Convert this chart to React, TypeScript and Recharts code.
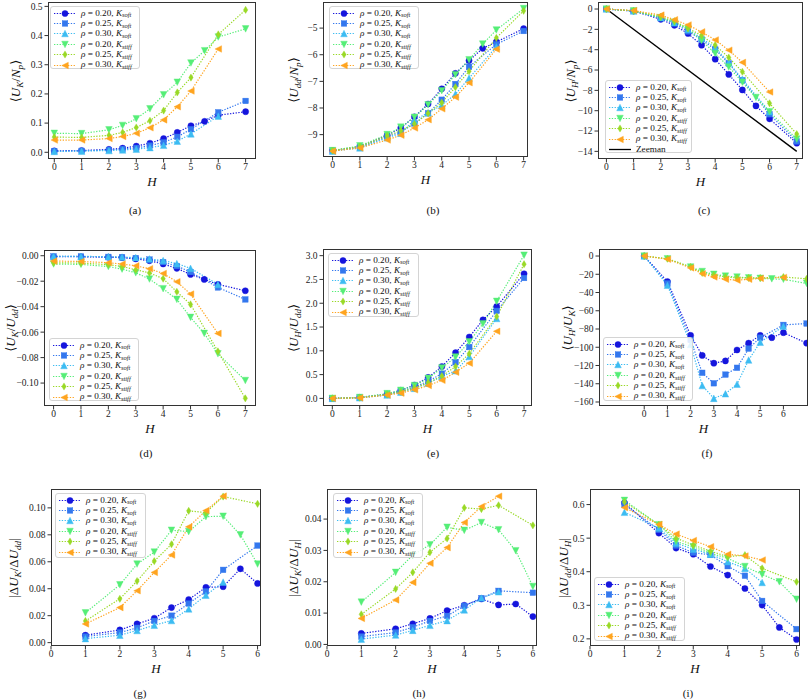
import React from 'react';
import { LineChart, Line, XAxis, YAxis } from 'recharts';

// H grids (rho = 0.20 has the extra 5.5 point, rho = 0.30 stops at 6)
const H_R20 = [0, 1, 2, 2.5, 3, 3.5, 4, 4.5, 5, 5.5, 6, 7];
const H_R25 = [0, 1, 2, 2.5, 3, 3.5, 4, 4.5, 5, 6, 7];
const H_R30 = [0, 1, 2, 2.5, 3, 3.5, 4, 4.5, 5, 6];
const DH_R20 = [1, 2, 2.5, 3, 3.5, 4, 4.5, 5, 5.5, 6];
const DH_R25 = [1, 2, 2.5, 3, 3.5, 4, 4.5, 5, 6];
const DH_R30 = [1, 2, 2.5, 3, 3.5, 4, 4.5, 5];

const TOP_H = [H_R20, H_R25, H_R30, H_R20, H_R25, H_R30];
const BOTTOM_H = [DH_R20, DH_R25, DH_R30, DH_R20, DH_R25, DH_R30];

// series order: soft 0.20, soft 0.25, soft 0.30, stiff 0.20, stiff 0.25, stiff 0.30
const UK_NP = [
  [0.005, 0.006, 0.010, 0.014, 0.021, 0.031, 0.047, 0.068, 0.091, 0.106, 0.127, 0.139],
  [0.004, 0.005, 0.008, 0.011, 0.015, 0.023, 0.034, 0.053, 0.079, 0.137, 0.176],
  [0.003, 0.004, 0.006, 0.008, 0.011, 0.016, 0.024, 0.038, 0.063, 0.124],
  [0.065, 0.064, 0.077, 0.092, 0.115, 0.149, 0.197, 0.240, 0.306, 0.348, 0.395, 0.423],
  [0.052, 0.051, 0.058, 0.068, 0.085, 0.108, 0.143, 0.205, 0.256, 0.404, 0.488],
  [0.042, 0.042, 0.047, 0.054, 0.065, 0.084, 0.111, 0.156, 0.210, 0.354],
];
const UDD_NP = [
  [-9.6, -9.45, -9.02, -8.75, -8.33, -7.85, -7.28, -6.7, -6.22, -5.76, -5.52, -5.02],
  [-9.6, -9.48, -9.08, -8.9, -8.58, -8.2, -7.69, -7.1, -6.45, -5.61, -5.11],
  [-9.62, -9.5, -9.12, -8.95, -8.45, -8.18, -7.9, -7.48, -6.88, -5.7],
  [-9.6, -9.42, -9.0, -8.72, -8.35, -7.88, -7.35, -6.75, -6.19, -5.6, -5.07, -4.27],
  [-9.6, -9.45, -9.05, -8.85, -8.6, -8.2, -7.8, -7.22, -6.62, -5.37, -4.35],
  [-9.62, -9.5, -9.2, -9.02, -8.75, -8.44, -8.03, -7.59, -7.05, -5.79],
];
const UH_NP = [
  [0, -0.2, -1.01, -1.6, -2.41, -3.56, -4.93, -6.43, -7.96, -9.53, -10.8, -13.19],
  [0, -0.2, -0.9, -1.4, -2.2, -3.0, -3.98, -5.35, -7.0, -10.35, -13.02],
  [0, -0.2, -0.85, -1.35, -2.0, -2.85, -3.8, -5.25, -6.9, -10.1],
  [0, -0.18, -0.85, -1.3, -1.95, -3.1, -4.37, -5.7, -7.2, -8.7, -10.1, -12.8],
  [0, -0.18, -0.75, -1.2, -1.9, -2.6, -3.56, -4.77, -6.17, -9.27, -12.3],
  [0, -0.15, -0.6, -1.05, -1.57, -2.25, -3.04, -4.05, -5.25, -8.16],
];
const ZEEMAN_H = [0, 7];
const ZEEMAN_U = [0, -14];
const UK_UDD = [
  [-0.0008, -0.0008, -0.0012, -0.0015, -0.0025, -0.0039, -0.0065, -0.0099, -0.0147, -0.0186, -0.0225, -0.0275],
  [-0.0005, -0.0006, -0.0009, -0.0012, -0.0018, -0.003, -0.005, -0.0081, -0.0128, -0.0249, -0.0343],
  [-0.0004, -0.0005, -0.0007, -0.001, -0.0015, -0.0025, -0.0038, -0.0062, -0.0099, -0.0225],
  [-0.0065, -0.0068, -0.0085, -0.0105, -0.0134, -0.0183, -0.0259, -0.0343, -0.0484, -0.061, -0.077, -0.098],
  [-0.0055, -0.0058, -0.007, -0.0085, -0.011, -0.0135, -0.018, -0.0283, -0.0382, -0.0751, -0.112],
  [-0.0042, -0.0045, -0.0055, -0.0065, -0.0079, -0.0102, -0.0139, -0.0204, -0.0301, -0.061],
];
const UH_UDD = [
  [0, 0.02, 0.09, 0.17, 0.28, 0.44, 0.67, 0.96, 1.29, 1.65, 1.93, 2.62],
  [0, 0.015, 0.08, 0.15, 0.24, 0.36, 0.52, 0.76, 1.08, 1.84, 2.53],
  [0, 0.012, 0.07, 0.13, 0.21, 0.32, 0.46, 0.58, 0.88, 1.68],
  [0, 0.02, 0.1, 0.17, 0.27, 0.42, 0.64, 0.87, 1.19, 1.57, 2.04, 3.01],
  [0, 0.015, 0.08, 0.14, 0.22, 0.33, 0.47, 0.67, 0.94, 1.72, 2.82],
  [0, 0.01, 0.07, 0.11, 0.18, 0.27, 0.38, 0.55, 0.74, 1.41],
];
const UH_UK = [
  [0, -28, -87, -109, -117.5, -115, -103, -95.5, -87, -89.5, -84, -95.5],
  [0, -30, -92, -128, -139.5, -130, -122.5, -101.5, -89.5, -75.5, -74],
  [0, -32, -97, -142, -156, -151, -140.5, -114, -94.5, -77],
  [0, -3, -12, -17, -20, -22, -23, -24, -24.5, -25, -25.5, -30],
  [0, -3, -12, -18.5, -21, -23, -24, -24, -24, -23, -25],
  [0, -3.5, -13, -19.5, -23, -25.5, -26.5, -25.5, -24.5, -23.5],
];
const DUK_DUDD = [
  [0.0055, 0.0094, 0.0139, 0.0181, 0.026, 0.032, 0.041, 0.0415, 0.0548, 0.0439],
  [0.0045, 0.0075, 0.011, 0.0161, 0.020, 0.029, 0.038, 0.054, 0.072],
  [0.003, 0.0055, 0.009, 0.0129, 0.0164, 0.025, 0.0352, 0.0449],
  [0.0221, 0.0429, 0.0583, 0.0672, 0.0834, 0.0824, 0.0935, 0.0938, 0.080, 0.0583],
  [0.0161, 0.0325, 0.0457, 0.0605, 0.073, 0.0978, 0.0965, 0.1084, 0.103],
  [0.0139, 0.026, 0.0385, 0.0521, 0.065, 0.0859, 0.098, 0.1087],
];
const DUK_DUH = [
  [0.0035, 0.005, 0.0066, 0.0083, 0.0108, 0.0125, 0.0145, 0.0126, 0.0129, 0.0089],
  [0.0025, 0.0038, 0.0055, 0.0075, 0.0091, 0.0123, 0.0148, 0.0171, 0.0165],
  [0.0017, 0.003, 0.0045, 0.0061, 0.0076, 0.011, 0.0148, 0.0168],
  [0.0135, 0.023, 0.0285, 0.0318, 0.0374, 0.0364, 0.0389, 0.0366, 0.0299, 0.0185],
  [0.0096, 0.0177, 0.023, 0.0294, 0.0338, 0.0436, 0.0432, 0.0444, 0.038],
  [0.0083, 0.0142, 0.0198, 0.0259, 0.0309, 0.0389, 0.044, 0.0473],
];
const DUDD_DUH = [
  [0.605, 0.515, 0.4705, 0.452, 0.4155, 0.39, 0.35, 0.3005, 0.234, 0.198],
  [0.6, 0.525, 0.478, 0.457, 0.45, 0.4165, 0.388, 0.313, 0.229],
  [0.577, 0.53, 0.485, 0.467, 0.452, 0.43, 0.41, 0.368],
  [0.6125, 0.54, 0.49, 0.474, 0.455, 0.44, 0.4155, 0.392, 0.37, 0.318],
  [0.608, 0.54, 0.5, 0.4795, 0.461, 0.445, 0.4495, 0.41, 0.37],
  [0.591, 0.541, 0.512, 0.493, 0.4745, 0.452, 0.447, 0.4348],
];

const SERIES = [
  { rho: '0.20', k: 'soft', color: '#1515dd', marker: 'o' },
  { rho: '0.25', k: 'soft', color: '#3377ee', marker: 's' },
  { rho: '0.30', k: 'soft', color: '#3cbcf2', marker: '^' },
  { rho: '0.20', k: 'stiff', color: '#55ee77', marker: 'v' },
  { rho: '0.25', k: 'stiff', color: '#99d926', marker: 'd' },
  { rho: '0.30', k: 'stiff', color: '#ffa41f', marker: '<' },
];

const X_TICKS_TOP = [0, 1, 2, 3, 4, 5, 6, 7];
const X_TICKS_F = [0, 1, 2, 3, 4, 5, 6];
const X_TICKS_BOTTOM = [0, 1, 2, 3, 4, 5, 6];

const SERIF = '"Liberation Serif", "DejaVu Serif", serif';
const YW = 40;
const XH = 18;

const Marker = ({ kind, cx, cy, color }: any) => {
  if (cx == null || cy == null) return null;
  const h = 3.3;
  const common = { fill: color, stroke: color, strokeWidth: 0.4 };
  switch (kind) {
    case 'o':
      return <circle cx={cx} cy={cy} r={3.1} {...common} />;
    case 's':
      return <rect x={cx - 2.8} y={cy - 2.8} width={5.6} height={5.6} {...common} />;
    case '^':
      return <polygon points={`${cx},${cy - h} ${cx - h},${cy + h} ${cx + h},${cy + h}`} {...common} />;
    case 'v':
      return <polygon points={`${cx},${cy + h} ${cx - h},${cy - h} ${cx + h},${cy - h}`} {...common} />;
    case 'd':
      return <polygon points={`${cx},${cy - 3.6} ${cx + 2.2},${cy} ${cx},${cy + 3.6} ${cx - 2.2},${cy}`} {...common} />;
    case '<':
      return <polygon points={`${cx - h},${cy} ${cx + h},${cy - h} ${cx + h},${cy + h}`} {...common} />;
    default:
      return null;
  }
};

const Sub = ({ children }: any) => (
  <span style={{ fontSize: '0.7em', position: 'relative', top: '0.3em' }}>{children}</span>
);

const Quotient = ({ num, den, delta, abs }: any) => (
  <span style={{ fontFamily: SERIF, fontSize: 13, whiteSpace: 'nowrap' }}>
    {abs ? '|' : '⟨'}
    {delta ? 'Δ' : ''}
    <i>{num[0]}</i>
    <Sub><i>{num[1]}</i></Sub>/{delta ? 'Δ' : ''}
    <i>{den[0]}</i>
    <Sub><i>{den[1]}</i></Sub>
    {abs ? '|' : '⟩'}
  </span>
);

const fmt = (dec: number) => (v: number) => {
  const s = v.toFixed(dec);
  return (Math.abs(v) < 1e-12 ? (0).toFixed(dec) : s).replace('-', '−');
};

const LegendBox = ({ pos, zeeman }: any) => {
  const rows = SERIES.map((s) => (
    <div key={s.rho + s.k} style={{ display: 'flex', alignItems: 'center', height: 10.4 }}>
      <svg width={22} height={9} style={{ flex: 'none' }}>
        <line x1={0} y1={4.5} x2={22} y2={4.5} stroke={s.color} strokeWidth={1.2} strokeDasharray="1.3 1.5" />
        <Marker kind={s.marker} cx={11} cy={4.5} color={s.color} />
      </svg>
      <span style={{ marginLeft: 5, whiteSpace: 'nowrap' }}>
        <i>ρ</i> = {s.rho}, <i>K</i>
        <Sub><i>{s.k}</i></Sub>
      </span>
    </div>
  ));
  return (
    <div
      style={{
        position: 'absolute',
        left: pos[0],
        top: pos[1],
        width: pos[2],
        height: pos[3],
        boxSizing: 'border-box',
        border: '1px solid #d4d4d4',
        borderRadius: 3,
        background: 'rgba(255,255,255,0.85)',
        padding: '1px 3px',
        fontFamily: SERIF,
        fontSize: 9.2,
        lineHeight: '10.4px',
        color: '#111',
        zIndex: 2,
      }}
    >
      {rows}
      {zeeman && (
        <div style={{ display: 'flex', alignItems: 'center', height: 10.4 }}>
          <svg width={22} height={9} style={{ flex: 'none' }}>
            <line x1={0} y1={4.5} x2={22} y2={4.5} stroke="#000" strokeWidth={1.3} />
          </svg>
          <span style={{ marginLeft: 5 }}>Zeeman</span>
        </div>
      )}
    </div>
  );
};

const Panel = ({ cfg }: any) => {
  const [l, t, r, b] = cfg.frame;
  const w = r - l;
  const h = b - t;
  const tickStyle = { fontFamily: SERIF, fontSize: 9.5, fill: '#222' };
  return (
    <>
      <div style={{ position: 'absolute', left: l - YW, top: t }}>
        <LineChart width={w + YW} height={h + XH} margin={{ top: 0, right: 0, bottom: 0, left: 0 }}>
          <XAxis
            type="number"
            dataKey="x"
            domain={cfg.xDomain}
            ticks={cfg.xTicks}
            interval={0}
            allowDataOverflow
            axisLine={false}
            tickLine={{ stroke: '#333' }}
            tickSize={3.5}
            tickMargin={1}
            height={XH}
            tick={tickStyle}
          />
          <YAxis
            type="number"
            domain={cfg.yDomain}
            ticks={cfg.yTicks}
            interval={0}
            allowDataOverflow
            axisLine={false}
            tickLine={{ stroke: '#333' }}
            tickSize={3.5}
            tickMargin={2}
            width={YW}
            tick={tickStyle}
            tickFormatter={fmt(cfg.yDec)}
          />
          {cfg.zeeman && (
            <Line
              data={ZEEMAN_H.map((x, i) => ({ x, y: ZEEMAN_U[i] }))}
              dataKey="y"
              stroke="#000"
              strokeWidth={1.4}
              dot={false}
              activeDot={false}
              isAnimationActive={false}
            />
          )}
          {cfg.values.map((ys: number[], si: number) => {
            const s = SERIES[si];
            const xs = cfg.hs[si];
            return (
              <Line
                key={si}
                data={xs.map((x: number, i: number) => ({ x, y: ys[i] }))}
                dataKey="y"
                stroke={s.color}
                strokeWidth={1.2}
                strokeDasharray="1.3 1.5"
                activeDot={false}
                isAnimationActive={false}
                dot={(p: any) => <Marker key={`${si}-${p.index}`} kind={s.marker} cx={p.cx} cy={p.cy} color={s.color} />}
              />
            );
          })}
        </LineChart>
      </div>
      <div
        style={{
          position: 'absolute',
          left: l,
          top: t,
          width: w,
          height: h,
          boxSizing: 'border-box',
          border: '1px solid #333',
          pointerEvents: 'none',
          zIndex: 1,
        }}
      />
      <LegendBox pos={cfg.legend} zeeman={cfg.zeeman} />
      <div
        style={{
          position: 'absolute',
          left: l - cfg.yLabelGap,
          top: t + h / 2,
          transform: 'translate(-50%, -50%) rotate(-90deg)',
          color: '#111',
        }}
      >
        {cfg.yLabel}
      </div>
      <div
        style={{
          position: 'absolute',
          left: l + w / 2,
          top: b + 22,
          transform: 'translate(-50%, -50%)',
          fontFamily: SERIF,
          fontStyle: 'italic',
          fontSize: 13,
          lineHeight: '13px',
          color: '#111',
        }}
      >
        H
      </div>
      <div
        style={{
          position: 'absolute',
          left: cfg.caption[0],
          top: cfg.caption[1],
          transform: 'translate(-50%, -50%)',
          fontFamily: SERIF,
          fontSize: 11,
          lineHeight: '12px',
          color: '#111',
        }}
      >
        {cfg.name}
      </div>
    </>
  );
};

const PANELS = [
  {
    name: '(a)', frame: [48, 2, 256, 159], xDomain: [-0.23, 7.38], yDomain: [-0.023, 0.515],
    xTicks: X_TICKS_TOP, yTicks: [0, 0.1, 0.2, 0.3, 0.4, 0.5], yDec: 1, hs: TOP_H, values: UK_NP,
    legend: [50, 6, 90, 63], yLabelGap: 33, caption: [135, 210],
    yLabel: <Quotient num={['U', 'K']} den={['N', 'p']} />,
  },
  {
    name: '(b)', frame: [323, 2, 528, 157], xDomain: [-0.35, 7.16], yDomain: [-9.84, -4.02],
    xTicks: X_TICKS_TOP, yTicks: [-9, -8, -7, -6, -5], yDec: 0, hs: TOP_H, values: UDD_NP,
    legend: [329, 6, 90, 63], yLabelGap: 30, caption: [433, 210],
    yLabel: <Quotient num={['U', 'dd']} den={['N', 'p']} />,
  },
  {
    name: '(c)', frame: [598, 2, 803, 159], xDomain: [-0.31, 7.23], yDomain: [-14.75, 0.69],
    xTicks: X_TICKS_TOP, yTicks: [-14, -12, -10, -8, -6, -4, -2, 0], yDec: 0, hs: TOP_H, values: UH_NP,
    legend: [605, 80, 87, 73], yLabelGap: 28, caption: [704, 210], zeeman: true,
    yLabel: <Quotient num={['U', 'H']} den={['N', 'p']} />,
  },
  {
    name: '(d)', frame: [44, 250, 256, 406], xDomain: [-0.35, 7.39], yDomain: [-0.118, 0.0045],
    xTicks: X_TICKS_TOP, yTicks: [-0.1, -0.08, -0.06, -0.04, -0.02, 0], yDec: 2, hs: TOP_H, values: UK_UDD,
    legend: [49, 338, 90, 63], yLabelGap: 34, caption: [146, 453],
    yLabel: <Quotient num={['U', 'K']} den={['U', 'dd']} />,
  },
  {
    name: '(e)', frame: [323, 249, 532, 406], xDomain: [-0.34, 7.29], yDomain: [-0.16, 3.14],
    xTicks: X_TICKS_TOP, yTicks: [0, 0.5, 1, 1.5, 2, 2.5, 3], yDec: 1, hs: TOP_H, values: UH_UDD,
    legend: [328, 253, 91, 64], yLabelGap: 30, caption: [433, 453],
    yLabel: <Quotient num={['U', 'H']} den={['U', 'dd']} />,
  },
  {
    name: '(f)', frame: [599, 249, 808, 406], xDomain: [-1.95, 7.06], yDomain: [-164.4, 7.7],
    xTicks: X_TICKS_F, yTicks: [-160, -140, -120, -100, -80, -60, -40, -20, 0], yDec: 0, hs: TOP_H, values: UH_UK,
    legend: [603, 337, 90, 64], yLabelGap: 32, caption: [707, 453],
    yLabel: <Quotient num={['U', 'H']} den={['U', 'K']} />,
  },
  {
    name: '(g)', frame: [51, 489, 261, 646], xDomain: [0, 6.1], yDomain: [-0.0025, 0.114],
    xTicks: X_TICKS_BOTTOM, yTicks: [0, 0.02, 0.04, 0.06, 0.08, 0.1], yDec: 2, hs: BOTTOM_H, values: DUK_DUDD,
    legend: [55, 493, 91, 65], yLabelGap: 38, caption: [140, 693],
    yLabel: <Quotient num={['U', 'K']} den={['U', 'dd']} delta abs />,
  },
  {
    name: '(h)', frame: [327, 489, 537, 646], xDomain: [0, 6.12], yDomain: [-0.0005, 0.0496],
    xTicks: X_TICKS_BOTTOM, yTicks: [0, 0.01, 0.02, 0.03, 0.04], yDec: 2, hs: BOTTOM_H, values: DUK_DUH,
    legend: [333, 493, 90, 65], yLabelGap: 34, caption: [419, 693],
    yLabel: <Quotient num={['U', 'K']} den={['U', 'H']} delta abs />,
  },
  {
    name: '(i)', frame: [590, 489, 800, 646], xDomain: [0, 6.1], yDomain: [0.1787, 0.6464],
    xTicks: X_TICKS_BOTTOM, yTicks: [0.2, 0.3, 0.4, 0.5, 0.6], yDec: 1, hs: BOTTOM_H, values: DUDD_DUH,
    legend: [594, 577, 91, 64], yLabelGap: 27, caption: [688, 693],
    yLabel: <Quotient num={['U', 'dd']} den={['U', 'H']} delta abs />,
  },
];

export default function App() {
  return (
    <div style={{ position: 'absolute', left: 0, top: 0, width: 810, height: 699, background: '#fff', overflow: 'hidden' }}>
      {PANELS.map((p) => (
        <Panel key={p.name} cfg={p} />
      ))}
    </div>
  );
}
